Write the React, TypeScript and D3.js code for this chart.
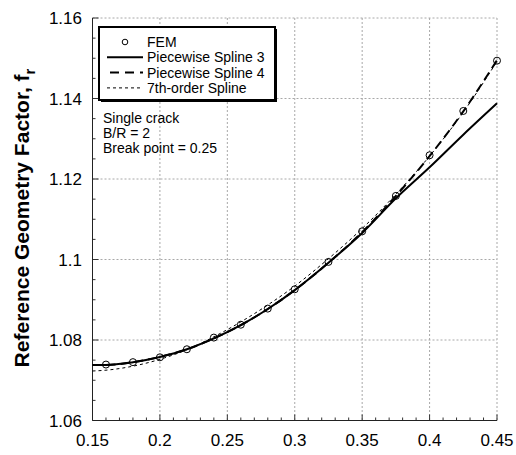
import React from "react";
import * as d3 from "d3";

const femX = [0.16, 0.18, 0.2, 0.22, 0.24, 0.26, 0.28, 0.3, 0.325, 0.35, 0.375, 0.4, 0.425, 0.45];
const femY = [1.0739, 1.0745, 1.0757, 1.0777, 1.0806, 1.0838, 1.0878, 1.0926, 1.0994, 1.107, 1.1158, 1.1259, 1.1369, 1.1494];

const curveX = [0.15, 0.16, 0.18, 0.2, 0.22, 0.24, 0.26, 0.28, 0.3, 0.325, 0.35, 0.375, 0.4, 0.425, 0.45];
const spline3Y = [1.0738, 1.0738, 1.0745, 1.0758, 1.0777, 1.0804, 1.0837, 1.0877, 1.0924, 1.0992, 1.1066, 1.1152, 1.1229, 1.131, 1.1388];
const spline4Y = [1.0738, 1.0738, 1.0745, 1.0758, 1.0777, 1.0804, 1.0837, 1.0877, 1.0924, 1.0992, 1.1068, 1.1158, 1.1257, 1.1368, 1.1495];
const order7Y = [1.0723, 1.0725, 1.0735, 1.0752, 1.0776, 1.0808, 1.0845, 1.0887, 1.0934, 1.1002, 1.1077, 1.1162, 1.1257, 1.1366, 1.1492];

const xTicks = [0.15, 0.2, 0.25, 0.3, 0.35, 0.4, 0.45];
const yTicks = [1.06, 1.08, 1.1, 1.12, 1.14, 1.16];
const xTickLabels = ["0.15", "0.2", "0.25", "0.3", "0.35", "0.4", "0.45"];
const yTickLabels = ["1.06", "1.08", "1.1", "1.12", "1.14", "1.16"];

const legendItems = ["FEM", "Piecewise Spline 3", "Piecewise Spline 4", "7th-order Spline"];
const notes = ["Single crack", "B/R = 2", "Break point = 0.25"];

const W = 516, H = 455;
const L = 92.5, R = 497, T = 18, B = 420.5;
const font = "Arial, 'Liberation Sans', Helvetica, sans-serif";

export default function App() {
  const x = d3.scaleLinear().domain([0.15, 0.45]).range([L, R]);
  const y = d3.scaleLinear().domain([1.06, 1.16]).range([B, T]);
  const line = (ys: number[]) =>
    d3.line<number>().x((_, i) => x(curveX[i])).y((d) => y(d)).curve(d3.curveMonotoneX)(ys) || "";

  const xMinor = d3.range(0.15, 0.4501, 0.01).map((v) => +v.toFixed(3));
  const yMinor = d3.range(1.06, 1.1601, 0.005).map((v) => +v.toFixed(4));

  return (
    <svg width={W} height={H} style={{ position: "absolute", left: 0, top: 0, background: "#fff" }}>
      <rect x={0} y={0} width={W} height={H} fill="#fff" />
      {/* grid */}
      {xTicks.slice(1).map((t) => (
        <line key={"gx" + t} x1={x(t)} x2={x(t)} y1={T} y2={B} stroke="#a8a8a8" strokeWidth={1} strokeDasharray="2,2" />
      ))}
      {yTicks.slice(1).map((t) => (
        <line key={"gy" + t} x1={L} x2={R} y1={y(t)} y2={y(t)} stroke="#a8a8a8" strokeWidth={1} strokeDasharray="2,2" />
      ))}
      {/* minor ticks */}
      {xMinor.map((t) => (
        <line key={"mx" + t} x1={x(t)} x2={x(t)} y1={B} y2={B - (xTicks.some((v) => Math.abs(v - t) < 1e-6) ? 6 : 3)} stroke="#333" strokeWidth={1} />
      ))}
      {yMinor.map((t) => (
        <line key={"my" + t} x1={L} x2={L + (yTicks.some((v) => Math.abs(v - t) < 1e-6) ? 6 : 3)} y1={y(t)} y2={y(t)} stroke="#333" strokeWidth={1} />
      ))}
      {/* axes */}
      <line x1={L} x2={L} y1={T} y2={B} stroke="#222" strokeWidth={1} />
      <line x1={L} x2={R} y1={B} y2={B} stroke="#222" strokeWidth={1} />
      {/* tick labels */}
      {xTicks.map((t, i) => (
        <text key={"xl" + t} x={x(t)} y={446} textAnchor="middle" fontFamily={font} fontSize={17} fill="#000">{xTickLabels[i]}</text>
      ))}
      {yTicks.map((t, i) => (
        <text key={"yl" + t} x={82} y={y(t) + 6} textAnchor="end" fontFamily={font} fontSize={17} fill="#000">{yTickLabels[i]}</text>
      ))}
      {/* y title */}
      <text transform={`translate(29,218) rotate(-90)`} textAnchor="middle" fontFamily={font} fontSize={21} fontWeight="bold" fill="#000">
        Reference Geometry Factor, f<tspan dy={6} fontSize={15}>r</tspan>
      </text>
      {/* curves */}
      <path d={line(order7Y)} fill="none" stroke="#000" strokeWidth={1} strokeDasharray="3,3" />
      <path d={line(spline4Y)} fill="none" stroke="#000" strokeWidth={2} strokeDasharray="9,5" />
      <path d={line(spline3Y)} fill="none" stroke="#000" strokeWidth={2} />
      {femX.map((v, i) => (
        <circle key={"f" + v} cx={x(v)} cy={y(femY[i])} r={3.5} fill="none" stroke="#000" strokeWidth={1} />
      ))}
      {/* legend */}
      <rect x={101} y={29} width={176} height={73} fill="#000" />
      <rect x={99} y={27} width={176} height={73} fill="#fff" stroke="#000" strokeWidth={2} />
      {legendItems.map((s, i) => {
        const yy = 42 + i * 15.3;
        return (
          <g key={s}>
            {i === 0 && <circle cx={125} cy={yy} r={2.8} fill="none" stroke="#000" strokeWidth={1} />}
            {i === 1 && <line x1={107} x2={143} y1={yy} y2={yy} stroke="#000" strokeWidth={2} />}
            {i === 2 && <line x1={110} x2={143} y1={yy} y2={yy} stroke="#000" strokeWidth={2} strokeDasharray="9,6" />}
            {i === 3 && <line x1={107} x2={143} y1={yy} y2={yy} stroke="#000" strokeWidth={1} strokeDasharray="3,3" />}
            <text x={147} y={yy + 5} fontFamily={font} fontSize={14} fill="#000">{s}</text>
          </g>
        );
      })}
      {notes.map((s, i) => (
        <text key={s} x={103} y={123 + i * 15} fontFamily={font} fontSize={14} fill="#000">{s}</text>
      ))}
    </svg>
  );
}
